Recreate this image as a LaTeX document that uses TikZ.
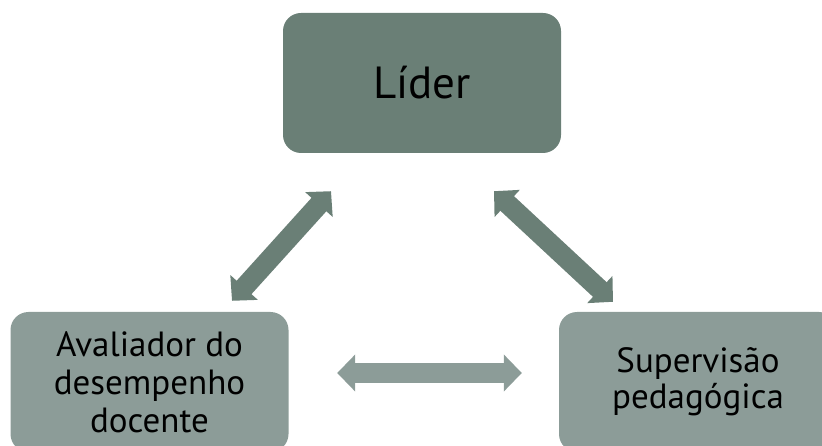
\documentclass[tikz,border=0pt]{standalone}
\usepackage{fontspec}
\setmainfont{PT Sans}
\usetikzlibrary{arrows.meta,calc}

\definecolor{temnyj}{HTML}{6A7F76}
\definecolor{svetlyj}{HTML}{8C9C98}

\tikzset{
    blok/.style = { rounded corners = 18pt, minimum width = 278pt, minimum height = 140pt, align = center, text = black, inner sep = 0pt },
    strelka/.style = { line width = 20pt, {Triangle[ length = 18pt, width = 36pt ]}-{Triangle[ length = 18pt, width = 36pt ]} }
}

\begin{document}
\begin{tikzpicture}[ x = 1pt, y = -1pt ]
        \useasboundingbox ( 0, 0 ) rectangle ( 822, 446 );

        % блок сверху
        \node [ blok, fill = temnyj, font = \fontsize{45}{48}\selectfont ] (lider) at ( 422, 83 ) {Líder};

        % блок слева
        \node [ blok, fill = svetlyj, font = \fontsize{35}{38}\selectfont ] (avaliador) at ( 149.5, 382 ) {Avaliador do\\desempenho\\docente};

        % блок справа
        \node [ blok, fill = svetlyj, font = \fontsize{35}{36}\selectfont ] (supervisao) at ( 698, 382 ) {Supervisão\\pedagógica};

        % стрелка 1
        \draw [ strelka, temnyj ] ( $ (avaliador.north) + ( 82.5, -11 ) $ ) -- ( $ (lider.south) + ( -91, 38 ) $ );

        % стрелка 2
        \draw [ strelka, temnyj ] ( $ (lider.south) + ( 72, 38 ) $ ) -- ( $ (supervisao.north) + ( -85, -10 ) $ );

        % стрелка 3
        \draw [ strelka, svetlyj ] ( $ (avaliador.east) + ( 48.5, -9 ) $ ) -- ( $ (supervisao.west) + ( -37, -9 ) $ );
\end{tikzpicture}
\end{document}
